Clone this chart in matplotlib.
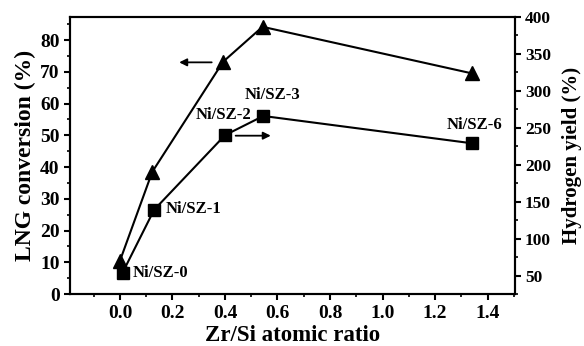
import matplotlib
matplotlib.use("Agg")
import matplotlib.pyplot as plt
from matplotlib.ticker import MultipleLocator

plt.rcParams['font.family'] = ['Liberation Serif', 'DejaVu Serif']
plt.rcParams['font.weight'] = 'bold'

# Data
zr_si = [0.0, 0.123, 0.393, 0.543, 1.342]
lng_conversion = [10.5, 38.5, 73.2, 84.2, 69.5]
zr_si_h2 = [0.01, 0.13, 0.40, 0.546, 1.342]
hydrogen_yield = [54, 139, 240, 266, 229]
sample_labels = ["Ni/SZ-0", "Ni/SZ-1", "Ni/SZ-2", "Ni/SZ-3", "Ni/SZ-6"]
x_ticks = [0.0, 0.2, 0.4, 0.6, 0.8, 1.0, 1.2, 1.4]
left_ticks = [0, 10, 20, 30, 40, 50, 60, 70, 80]
right_ticks = [50, 100, 150, 200, 250, 300, 350, 400]

fig = plt.figure(figsize=(5.84, 3.46), dpi=100)
ax = fig.add_axes([0.120, 0.150, 0.762, 0.801])
ax2 = ax.twinx()

ax.plot(zr_si, lng_conversion, color='black', lw=1.5, marker='^', ms=10, zorder=3)
ax2.plot(zr_si_h2, hydrogen_yield, color='black', lw=1.5, marker='s', ms=8, zorder=3)

ax.set_xlim(-0.19, 1.505)
ax.set_ylim(0, 87.3)
ax2.set_ylim(25, 400)

ax.set_xticks(x_ticks)
ax.set_xticklabels([f"{v:.1f}" for v in x_ticks])
ax.xaxis.set_minor_locator(MultipleLocator(0.1))
ax.set_yticks(left_ticks)
ax.yaxis.set_minor_locator(MultipleLocator(5))
ax2.set_yticks(right_ticks)
ax2.yaxis.set_minor_locator(MultipleLocator(25))

for a in (ax, ax2):
    a.tick_params(which='major', direction='out', length=4, width=1.5)
    a.tick_params(which='minor', direction='out', length=2.5, width=1.2)
    for s in a.spines.values():
        s.set_linewidth(1.5)
ax.tick_params(axis='x', pad=4, labelsize=14)
ax.tick_params(axis='y', labelsize=14)
ax2.tick_params(axis='y', labelsize=12.5, pad=3)
for lab in ax.get_xticklabels() + ax.get_yticklabels() + ax2.get_yticklabels():
    lab.set_fontweight('bold')

ax.set_xlabel("Zr/Si atomic ratio", fontsize=16.5, fontweight='bold', labelpad=2)
ax.set_ylabel("LNG conversion (%)", fontsize=17, fontweight='bold', labelpad=3)
ax2.set_ylabel("Hydrogen yield (%)", fontsize=15, fontweight='bold', labelpad=8)

# Arrows
ax.annotate("", xy=(0.215, 73.0), xytext=(0.36, 73.0),
            arrowprops=dict(arrowstyle='-|>', color='black', lw=1.3, mutation_scale=11))
ax.annotate("", xy=(0.585, 49.9), xytext=(0.43, 49.9),
            arrowprops=dict(arrowstyle='-|>', color='black', lw=1.3, mutation_scale=11))

# Labels
lab_pos = [(0.05, 6.7, 'left'), (0.174, 26.7, 'left'), (0.50, 56.4, 'right'),
           (0.473, 62.7, 'left'), (1.244, 53.2, 'left')]
for lab, (x, y, ha) in zip(sample_labels, lab_pos):
    ax.text(x, y, lab, ha=ha, va='center', fontsize=12, fontweight='bold')

fig.savefig("out.png", dpi=100)
